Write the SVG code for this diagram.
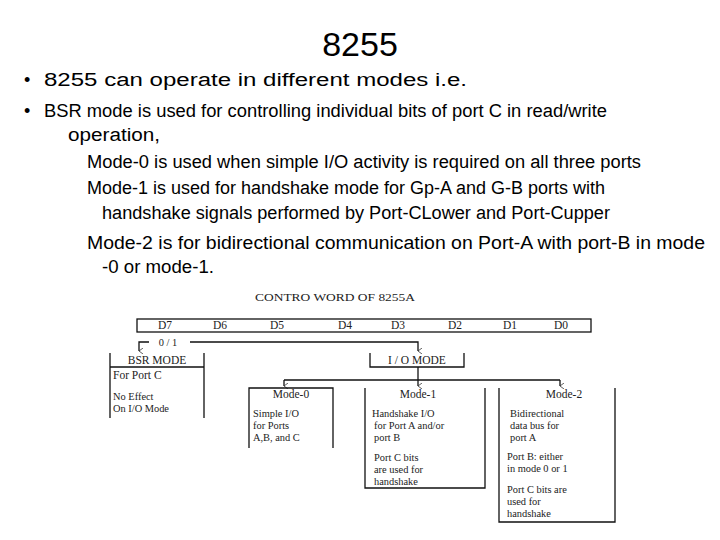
<svg xmlns="http://www.w3.org/2000/svg" width="720" height="540" viewBox="0 0 720 540">
<style>
.t{font-family:"Liberation Sans",Arial,sans-serif;font-size:18px;fill:#000}
.d{font-family:"Liberation Serif","Times New Roman",serif;font-size:10.4px;fill:#222}
.c{text-anchor:middle}
.l{stroke:#111;stroke-width:1.3;fill:none}
</style>
<defs><marker id="a" markerWidth="6" markerHeight="6" refX="3" refY="5" orient="auto" markerUnits="userSpaceOnUse"><path d="M0,1 L3,5 L6,1" fill="none" stroke="#333" stroke-width="0.8"/></marker></defs>
<rect width="720" height="540" fill="#fff"/>
<text x="360" y="56" class="t c" style="font-size:34px">8255</text>
<text x="24" y="86" class="t">•</text>
<text x="44" y="86" class="t" textLength="423" lengthAdjust="spacingAndGlyphs">8255 can operate in different modes i.e.</text>
<text x="24" y="117" class="t">•</text>
<text x="44" y="117" class="t" textLength="563" lengthAdjust="spacingAndGlyphs">BSR mode is used for controlling individual bits of port C in read/write</text>
<text x="68" y="141" class="t" textLength="92" lengthAdjust="spacingAndGlyphs">operation,</text>
<text x="87" y="168" class="t" textLength="554" lengthAdjust="spacingAndGlyphs">Mode-0 is used when simple I/O activity is required on all three ports</text>
<text x="87" y="194" class="t" textLength="518" lengthAdjust="spacingAndGlyphs">Mode-1 is used for handshake mode for Gp-A and G-B ports with</text>
<text x="102" y="219" class="t" textLength="508" lengthAdjust="spacingAndGlyphs">handshake signals performed by Port-CLower and Port-Cupper</text>
<text x="87" y="249" class="t" textLength="618" lengthAdjust="spacingAndGlyphs">Mode-2 is for bidirectional communication on Port-A with port-B in mode</text>
<text x="102" y="273" class="t" textLength="112" lengthAdjust="spacingAndGlyphs">-0 or mode-1.</text>

<text x="335" y="301" class="d c" textLength="160" lengthAdjust="spacingAndGlyphs">CONTRO WORD OF 8255A</text>
<g id="word">
<rect x="137" y="319" width="454" height="13" class="l"/>
<text x="165" y="329" class="d c" style="font-size:11.5px">D7</text><text x="220" y="329" class="d c" style="font-size:11.5px">D6</text>
<text x="277" y="329" class="d c" style="font-size:11.5px">D5</text><text x="345" y="329" class="d c" style="font-size:11.5px">D4</text>
<text x="398" y="329" class="d c" style="font-size:11.5px">D3</text><text x="455" y="329" class="d c" style="font-size:11.5px">D2</text>
<text x="510" y="329" class="d c" style="font-size:11.5px">D1</text><text x="561" y="329" class="d c" style="font-size:11.5px">D0</text>
</g>
<g id="connectors">
<path d="M149,342 H139 V351" class="l" marker-end="url(#a)"/>
<text x="168" y="346" class="d c">0 / 1</text>
<path d="M190,342 H418 V351" class="l" marker-end="url(#a)"/>
<path d="M418,367 V380" class="l"/>
<path d="M284,380 H560" class="l"/>
<path d="M284,380 V386" class="l" marker-end="url(#a)"/>
<path d="M418,380 V386" class="l" marker-end="url(#a)"/>
<path d="M560,380 V386" class="l" marker-end="url(#a)"/>
</g>
<g id="bsr">
<path d="M110,353 V418 M204,353 V418 M110,367 H204" class="l"/>
<text x="157" y="364" class="d c" style="font-size:11.5px">BSR  MODE</text>
<text x="113" y="379" class="d" style="font-size:11.5px">For Port C</text>
<text x="113" y="400" class="d"><tspan x="113">No Effect</tspan><tspan x="113" dy="12">On I/O Mode</tspan></text>
</g>
<g id="iomode">
<path d="M370,353 V367 H464 V353" class="l"/>
<text x="417" y="364" class="d c" style="font-size:11.5px">I / O MODE</text>
</g>
<g id="mode0">
<path d="M249,448 V388 H333 V448" class="l"/>
<text x="291" y="398" class="d c" style="font-size:11.5px">Mode-0</text>
<text x="253" y="417" class="d"><tspan x="253">Simple I/O</tspan><tspan x="253" dy="12">for Ports</tspan><tspan x="253" dy="12">A,B, and C</tspan></text>
</g>
<g id="mode1">
<path d="M365,388 V488 H485 V388" class="l"/>
<text x="418" y="398" class="d c" style="font-size:11.5px">Mode-1</text>
<text x="372" y="417" class="d"><tspan x="372">Handshake I/O</tspan><tspan x="374" dy="12">for Port A and/or</tspan><tspan x="374" dy="12">port B</tspan></text>
<text x="374" y="461" class="d"><tspan x="374">Port C bits</tspan><tspan x="374" dy="12">are used for</tspan><tspan x="374" dy="12">handshake</tspan></text>
</g>
<g id="mode2">
<path d="M499,388 V522 H615 V388" class="l"/>
<text x="564" y="398" class="d c" style="font-size:11.5px">Mode-2</text>
<text x="510" y="417" class="d"><tspan x="510">Bidirectional</tspan><tspan x="510" dy="12">data bus for</tspan><tspan x="510" dy="12">port A</tspan></text>
<text x="507" y="460" class="d"><tspan x="507">Port B: either</tspan><tspan x="507" dy="12">in mode 0 or 1</tspan></text>
<text x="507" y="493" class="d"><tspan x="507">Port C bits are</tspan><tspan x="507" dy="12">used for</tspan><tspan x="507" dy="12">handshake</tspan></text>
</g>
</svg>
